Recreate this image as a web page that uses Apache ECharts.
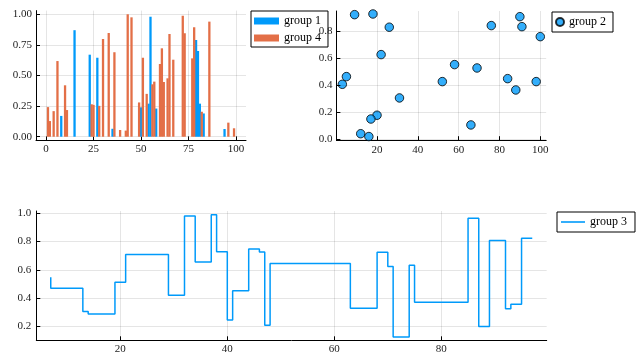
<!DOCTYPE html>
<html>
<head>
<meta charset="utf-8">
<script src="https://cdn.jsdelivr.net/npm/echarts@6/dist/echarts.min.js"></script>
<style>html,body{margin:0;padding:0;background:#fff}#c{width:643px;height:364px}</style>
</head>
<body>
<div id="c"></div>
<script>
// ---- Data ----
const barX1 = [8, 15, 23, 27, 35, 50, 54, 55, 58, 79, 80, 81, 83, 94];
const barY1 = [0.17, 0.87, 0.67, 0.645, 0.065, 0.24, 0.27, 0.98, 0.23, 0.79, 0.70, 0.27, 0.19, 0.063];
const barX4 = [1, 2, 4, 6, 10, 11, 24, 25, 28, 30, 33, 36, 39, 42, 43, 45, 49, 51, 53, 56, 57, 60, 61, 62, 64, 65, 67, 72, 73, 77, 78, 82, 86, 96, 99];
const barY4 = [0.242, 0.128, 0.209, 0.618, 0.42, 0.218, 0.265, 0.26, 0.252, 0.798, 0.847, 0.69, 0.055, 0.05, 1.0, 0.975, 0.28, 0.645, 0.35, 0.428, 0.45, 0.594, 0.722, 0.447, 0.477, 0.839, 0.629, 0.988, 0.845, 0.64, 0.894, 0.204, 0.94, 0.115, 0.069];

const scatX = [9, 18, 26, 22, 5, 3, 31, 20, 17, 12, 16, 52, 58, 69, 66, 76, 84, 88, 90, 91, 100, 98];
const scatY = [0.923, 0.928, 0.83, 0.627, 0.464, 0.407, 0.306, 0.178, 0.150, 0.041, 0.02, 0.427, 0.553, 0.528, 0.106, 0.842, 0.449, 0.365, 0.908, 0.834, 0.76, 0.427];

const stepX = [7, 13, 14, 19, 21, 29, 32, 34, 37, 38, 40, 41, 44, 46, 47, 48, 63, 68, 70, 71, 74, 75, 85, 87, 89, 92, 93, 95, 97];
const stepY = [0.548, 0.47, 0.306, 0.289, 0.513, 0.708, 0.421, 0.981, 0.656, 0.99, 0.729, 0.247, 0.452, 0.748, 0.727, 0.21, 0.645, 0.329, 0.725, 0.624, 0.127, 0.633, 0.372, 0.965, 0.2, 0.807, 0.325, 0.358, 0.824];

const barXTicks = [0, 25, 50, 75, 100];
const barYTicks = [0, 0.25, 0.5, 0.75, 1.0];
const scatXTicks = [20, 40, 60, 80, 100];
const scatYTicks = [0, 0.2, 0.4, 0.6, 0.8];
const stepXTicks = [20, 40, 60, 80];
const stepYTicks = [0.2, 0.4, 0.6, 0.8, 1.0];

const BLUE = '#009AFA', ORANGE = '#E36F47';
const FONT = 'Liberation Serif';

function zip(xs, ys) { return xs.map((x, i) => [x, ys[i]]); }

function axis(gridIndex, min, max, ticks, fmt, margin, extra) {
  return Object.assign({
    type: 'value', gridIndex, min, max,
    axisLine: { show: true, onZero: false, lineStyle: { color: '#000', width: 1 } },
    axisTick: { show: true, inside: true, length: 4, customValues: ticks, lineStyle: { color: '#000', width: 1 } },
    axisLabel: { customValues: ticks, formatter: fmt, fontFamily: FONT, fontSize: 11, color: '#222', margin },
    splitLine: { show: true, lineStyle: { color: 'rgba(0,0,0,0.1)', width: 1 } }
  }, extra || {});
}

function legend(names, left, top, opts) {
  return Object.assign({
    data: names, left, top, orient: 'vertical', selectedMode: false,
    borderColor: '#000', borderWidth: 1, backgroundColor: '#fff',
    textStyle: { fontFamily: FONT, fontSize: 12, color: '#000', lineHeight: 12 },
    z: 0
  }, opts);
}

const chart = echarts.init(document.getElementById('c'), null, { renderer: 'canvas' });
chart.setOption({
  animation: false,
  backgroundColor: '#fff',
  grid: [
    { left: 36, top: 10.6, width: 210, height: 129.8 },
    { left: 336.4, top: 11, width: 209.8, height: 129.2 },
    { left: 36.3, top: 211, width: 510.4, height: 129.3 }
  ],
  xAxis: [
    axis(0, -5.3, 105.3, barXTicks, v => String(v), 3),
    axis(1, 0.09, 102.9, scatXTicks, v => String(v), 4),
    axis(2, 4.3, 99.7, stepXTicks, v => String(v), 3)
  ],
  yAxis: [
    axis(0, -0.03, 1.03, barYTicks, v => v.toFixed(2), 4),
    axis(1, -0.007, 0.95, scatYTicks, v => v.toFixed(1), 4, { z: 3 }),
    axis(2, 0.103, 1.016, stepYTicks, v => v.toFixed(1), 5)
  ],
  legend: [
    legend(['group 1', 'group 4'], 251, 11, { icon: 'rect', itemWidth: 25, itemHeight: 7, itemGap: 5, padding: [4, 7, 3, 3] }),
    legend(['group 2'], 552, 12, { icon: 'circle', itemWidth: 8, itemHeight: 8, padding: [4, 7, 4, 3] }),
    legend(['group 3'], 557, 212, { icon: 'rect', itemWidth: 24, itemHeight: 1.6, padding: [4, 8, 4, 4] })
  ],
  series: [
    { name: 'group 1', type: 'bar', xAxisIndex: 0, yAxisIndex: 0, data: zip(barX1, barY1),
      barWidth: 2.3, barGap: '-100%', itemStyle: { color: BLUE } },
    { name: 'group 4', type: 'bar', xAxisIndex: 0, yAxisIndex: 0, data: zip(barX4, barY4),
      barWidth: 2.3, barGap: '-100%', itemStyle: { color: ORANGE } },
    { name: 'group 2', type: 'scatter', xAxisIndex: 1, yAxisIndex: 1, data: zip(scatX, scatY),
      symbol: 'circle', symbolSize: 8.5, itemStyle: { color: BLUE, borderColor: '#000', borderWidth: 1 } },
    { name: 'group 3', type: 'line', xAxisIndex: 2, yAxisIndex: 2, data: zip(stepX, stepY),
      step: 'start', symbol: 'none', showSymbol: false, lineStyle: { color: BLUE, width: 1.5 }, itemStyle: { color: BLUE } }
  ]
});
</script>
</body>
</html>
